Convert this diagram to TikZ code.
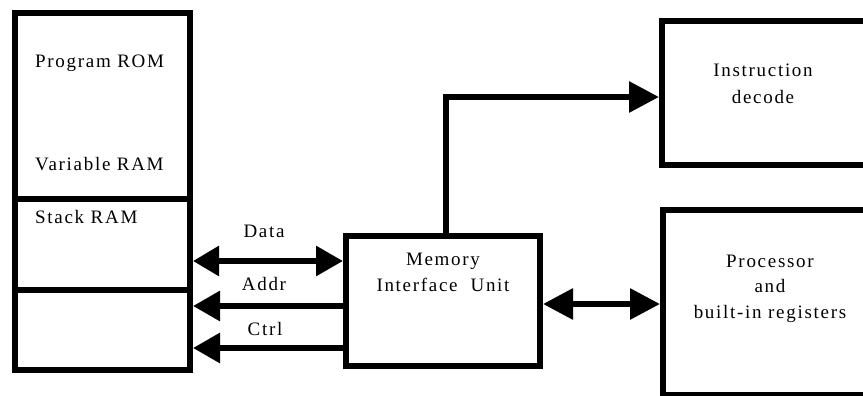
\documentclass[tikz,border=0pt]{standalone}
\usepackage{fontspec}
\setmainfont{Liberation Serif}[LetterSpace=9]
\usetikzlibrary{arrows.meta}
\begin{document}
\begin{tikzpicture}[x=1pt,y=-1pt,
  box/.style={draw=black,line width=6pt,rectangle,inner sep=0pt,minimum width=#1},
  txt/.style={anchor=base,inner sep=0pt,font=\fontsize{19}{26}\selectfont},
  ltxt/.style={anchor=base west,inner sep=0pt,font=\fontsize{19}{26}\selectfont},
  arr/.style={line width=6pt,line join=miter,-{Triangle[length=30pt,width=30pt]}},
  barr/.style={line width=6pt,{Triangle[length=30pt,width=30pt]}-{Triangle[length=30pt,width=30pt]}},
  sarr/.style={line width=6pt,-{Triangle[length=27pt,width=29pt]}},
  sbarr/.style={line width=6pt,{Triangle[length=26pt,width=29pt]}-{Triangle[length=27pt,width=29pt]}}
]
\useasboundingbox (0,0) rectangle (863,396);
\fill[white] (0,0) rectangle (863,396);
\clip (0,0) rectangle (863,396);

% left memory column
\node[box=175pt,minimum height=186pt] (rom) at (102.5,106) {};
\node[box=175pt,minimum height=91pt] (stack) at (102.5,244.5) {};
\node[box=175pt,minimum height=80pt] (low) at (102.5,330) {};
\node[ltxt] (t1) at (35,68) {Program ROM};
\node[ltxt] (t2) at (35,170) {Variable RAM};
\node[ltxt] (t3) at (35,223) {Stack RAM};

% memory interface unit
\node[box=194pt,minimum height=130pt] (miu) at (443,301) {};
\node[txt] (m1) at (443,265) {Memory};
\node[txt] (m2) at (443,291) {Interface\ \ Unit};

% instruction decode
\node[box=238pt,minimum height=144pt] (idec) at (781,93) {};
\node[txt] (i1) at (763,77) {Instruction};
\node[txt] (i2) at (763,103) {decode};

% processor
\node[box=237pt,minimum height=185pt] (proc) at (781.5,302.5) {};
\node[txt] (p1) at (770,267) {Processor};
\node[txt] (p2) at (770,292) {and};
\node[txt] (p3) at (770,318) {built-in registers};

% buses
\draw[sbarr] (stack.east |- 0,261) -- (miu.west |- 0,261);
\draw[sarr] (miu.west |- 0,306) -- (low.east |- 0,306);
\draw[sarr] (miu.west |- 0,348) -- (low.east |- 0,348);
\node[txt] (ld) at (264,237) {Data};
\node[txt] (la) at (264,290) {Addr};
\node[txt] (lc) at (265,335) {Ctrl};

\draw[arr] ([xshift=3pt]miu.north) |- (idec.west |- 0,97);
\draw[barr] (miu.east |- 0,304) -- (proc.west |- 0,304);
\end{tikzpicture}
\end{document}
